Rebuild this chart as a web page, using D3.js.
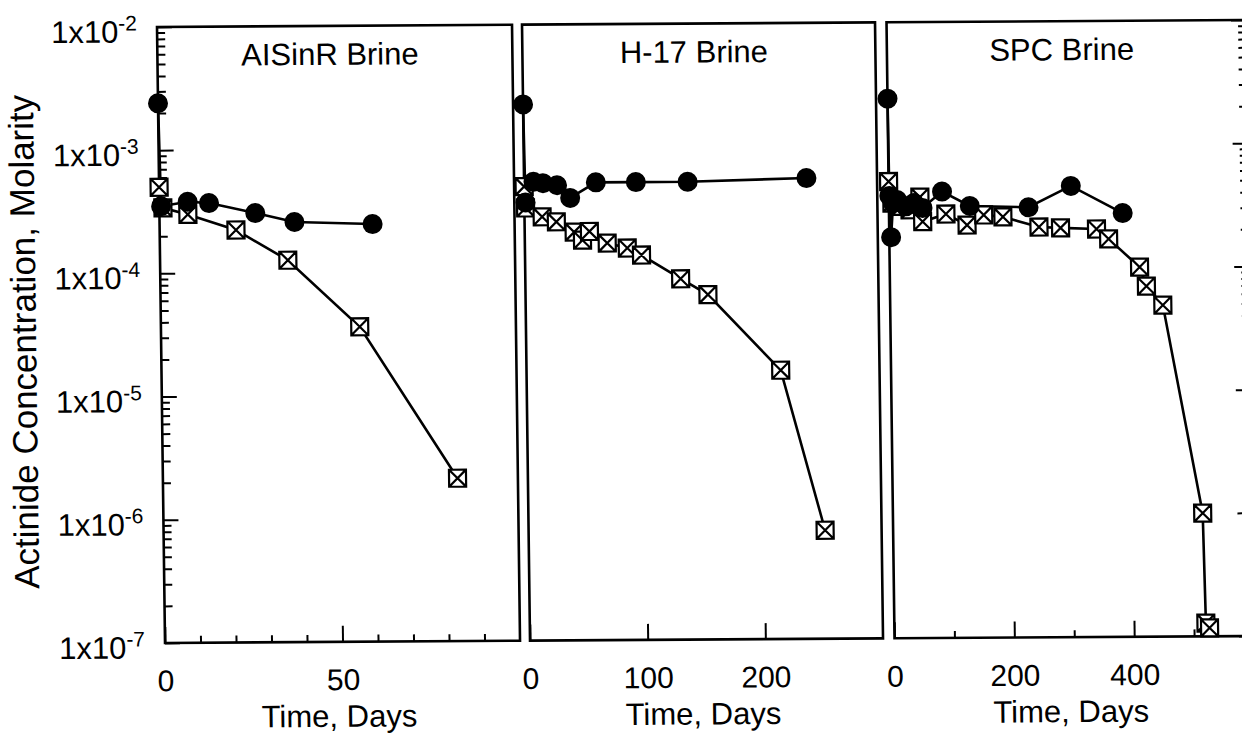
<!DOCTYPE html>
<html>
<head>
<meta charset="utf-8">
<script src="https://cdn.jsdelivr.net/npm/d3@7"></script>
<style>
body { margin: 0; background: #fff; }
text { font-family: "Liberation Sans", Arial, sans-serif; fill: #000; }
</style>
</head>
<body>
<div id="chart"></div>
<script>
var width = 1242,
    height = 736;

// data
var panelTitles = ["AISinR Brine", "H-17 Brine", "SPC Brine"];
var dayMax = [100, 300, 600];
var xMajorTicks = [[0, 50], [0, 100, 200], [0, 200, 400]];
var xMinorTicks = [[10, 20, 30, 40, 60, 70, 80, 90], [], [100, 300, 500]];
var yDecades = [1e-7, 1e-6, 1e-5, 1e-4, 1e-3, 1e-2];

// [days, molarity]
var aisinrFilled = [[0, 2.4e-3], [0.5, 3.5e-4], [8, 3.8e-4], [14, 3.7e-4], [27, 3.05e-4], [38, 2.57e-4], [60, 2.45e-4]];
var aisinrBoxed = [[0, 5.0e-4], [1, 3.4e-4], [8, 3.0e-4], [21.5, 2.23e-4], [36, 1.26e-4], [56, 3.6e-5], [83, 2.1e-6]];

var h17Filled = [[0, 2.25e-3], [1, 3.6e-4], [8, 5.3e-4], [16, 5.15e-4], [28, 4.95e-4], [39, 3.9e-4],
                 [61, 5.2e-4], [95, 5.2e-4], [139, 5.2e-4], [240, 5.5e-4]];
var h17Boxed = [[0, 4.85e-4], [1, 3.25e-4], [15, 2.75e-4], [27, 2.5e-4], [42, 2.06e-4], [49, 1.77e-4],
                [55, 2.08e-4], [70, 1.67e-4], [87, 1.52e-4], [99, 1.33e-4], [132, 8.5e-5], [155, 6.3e-5],
                [216, 1.52e-5], [252, 7.6e-7]];

var spcFilled = [[0, 2.4e-3], [1, 3.9e-4], [3, 1.8e-4], [7, 3.4e-4], [14, 3.6e-4], [28, 3.2e-4], [42, 3.4e-4],
                 [56, 3.1e-4], [89, 4.2e-4], [135, 3.2e-4], [233, 3.1e-4], [304, 4.6e-4], [390, 2.75e-4]];
var spcBoxed = [[0, 5.1e-4], [5, 3.4e-4], [20, 3.2e-4], [35, 3.0e-4], [52, 3.8e-4], [56, 2.4e-4], [95, 2.76e-4],
                [130, 2.24e-4], [158, 2.7e-4], [190, 2.6e-4], [250, 2.14e-4], [286, 2.1e-4], [346, 2.05e-4],
                [366, 1.7e-4], [417, 1.0e-4], [428, 7.0e-5], [455, 4.9e-5], [517, 1.0e-6], [520, 1.28e-7],
                [526, 1.17e-7]];

var filledSeries = [aisinrFilled, h17Filled, spcFilled];
var boxedSeries = [aisinrBoxed, h17Boxed, spcBoxed];

// layout
var plotTop = 24, plotBottom = 640;
var panelLeft = [161, 526, 890.5],
    panelRight = [516, 879, 1250];

var svg = d3.select("#chart")
    .append("svg")
    .attr("width", width)
    .attr("height", height);

svg.append("rect").attr("width", width).attr("height", height).attr("fill", "#fff");

// the scan is slightly skewed
var g = svg.append("g")
    .attr("transform", "matrix(1,-0.0064,0.013,1,-4.3,4.0)");

var y = d3.scaleLog()
    .domain([1e-7, 1e-2])
    .range([plotBottom, plotTop]);

var yMinor = y.ticks().filter(function(d) {
    var l = Math.log10(d);
    return Math.abs(l - Math.round(l)) > 1e-6;
});

function styleAxis(sel) {
    sel.select(".domain").remove();
    sel.selectAll(".tick line").attr("stroke", "#000").attr("stroke-width", 2);
    sel.attr("font-family", null).attr("font-size", null);
}

var boxPath = "M-8.5,-8.5h17v17h-17z M-8.5,-8.5L8.5,8.5 M8.5,-8.5L-8.5,8.5";

panelTitles.forEach(function(title, i) {
    var x = d3.scaleLinear()
        .domain([0, dayMax[i]])
        .range([panelLeft[i], panelRight[i]]);

    var p = g.append("g");

    p.append("rect")
        .attr("x", panelLeft[i])
        .attr("y", plotTop)
        .attr("width", panelRight[i] - panelLeft[i])
        .attr("height", plotBottom - plotTop)
        .attr("fill", "none")
        .attr("stroke", "#000")
        .attr("stroke-width", 2.6);

    // x axis
    var xa = p.append("g")
        .attr("transform", "translate(0," + plotBottom + ")")
        .call(d3.axisBottom(x).tickValues(xMajorTicks[i]).tickSizeInner(-16).tickSizeOuter(0).tickPadding(27))
        .call(styleAxis);
    xa.selectAll(".tick text").style("font-size", "30px");

    p.append("g")
        .attr("transform", "translate(0," + plotBottom + ")")
        .call(d3.axisBottom(x).tickValues(xMinorTicks[i]).tickSizeInner(-7).tickSizeOuter(0).tickFormat(""))
        .call(styleAxis);

    p.append("text")
        .attr("x", (panelLeft[i] + panelRight[i]) / 2 - 4)
        .attr("y", 725)
        .attr("text-anchor", "middle")
        .style("font-size", "31px")
        .text("Time, Days");

    p.append("text")
        .attr("x", (panelLeft[i] + panelRight[i]) / 2 - 5)
        .attr("y", 63)
        .attr("text-anchor", "middle")
        .style("font-size", "31px")
        .text(title);

    // y ticks: left on first panel, right on last
    if (i == 0) {
        var ya = p.append("g")
            .attr("transform", "translate(" + panelLeft[i] + ",0)")
            .call(d3.axisLeft(y).tickValues(yDecades).tickSizeInner(-15).tickSizeOuter(0).tickPadding(20))
            .call(styleAxis);
        ya.selectAll(".tick text").each(function(d) {
            var t = d3.select(this)
                .attr("dy", "0.48em")
                .style("font-size", "31px")
                .text("1x10");
            t.append("tspan")
                .attr("dy", -12)
                .style("font-size", "21px")
                .text(String(Math.round(Math.log10(d))));
        });
        p.append("g")
            .attr("transform", "translate(" + panelLeft[i] + ",0)")
            .call(d3.axisLeft(y).tickValues(yMinor).tickSizeInner(-8).tickSizeOuter(0).tickFormat(""))
            .call(styleAxis);
    }
    if (i == 2) {
        p.append("g")
            .attr("transform", "translate(" + panelRight[i] + ",0)")
            .call(d3.axisRight(y).tickValues(yDecades).tickSizeInner(-15).tickSizeOuter(0).tickFormat(""))
            .call(styleAxis);
        p.append("g")
            .attr("transform", "translate(" + panelRight[i] + ",0)")
            .call(d3.axisRight(y).tickValues(yMinor).tickSizeInner(-8).tickSizeOuter(0).tickFormat(""))
            .call(styleAxis);
    }

    var line = d3.line()
        .x(function(d) { return x(d[0]); })
        .y(function(d) { return y(d[1]); });

    [boxedSeries[i], filledSeries[i]].forEach(function(s) {
        p.append("path")
            .datum(s)
            .attr("d", line)
            .attr("fill", "none")
            .attr("stroke", "#000")
            .attr("stroke-width", 2.6);
    });

    p.selectAll(".box")
        .data(boxedSeries[i])
        .enter()
        .append("path")
        .attr("class", "box")
        .attr("transform", function(d) { return "translate(" + x(d[0]) + "," + y(d[1]) + ")"; })
        .attr("d", boxPath)
        .attr("fill", "#fff")
        .attr("stroke", "#000")
        .attr("stroke-width", 2.2);

    p.selectAll(".dot")
        .data(filledSeries[i])
        .enter()
        .append("circle")
        .attr("class", "dot")
        .attr("cx", function(d) { return x(d[0]); })
        .attr("cy", function(d) { return y(d[1]); })
        .attr("r", 10)
        .attr("fill", "#000");
});

g.append("text")
    .attr("transform", "translate(36,338) rotate(-90)")
    .attr("text-anchor", "middle")
    .style("font-size", "35px")
    .text("Actinide Concentration, Molarity");
</script>
</body>
</html>
